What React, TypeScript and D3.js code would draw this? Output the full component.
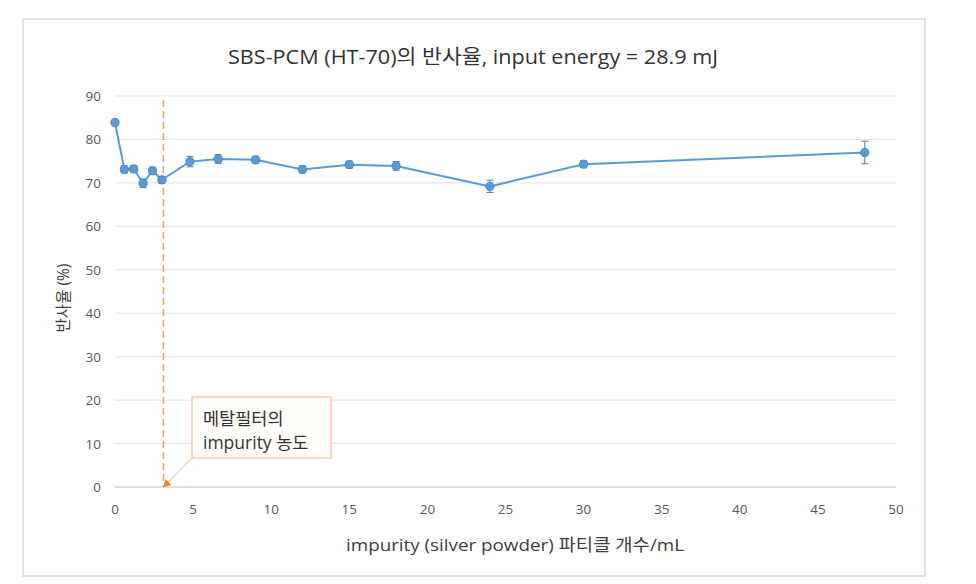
import { useEffect } from "react";
import * as d3 from "d3";

// impurity particle counts (per mL) and measured reflectance (%)
const particles = [0, 0.6, 1.2, 1.8, 2.4, 3.0, 4.8, 6.6, 9, 12, 15, 18, 24, 30, 48];
const reflectance = [83.9, 73.1, 73.2, 69.9, 72.8, 70.7, 74.9, 75.5, 75.3, 73.1, 74.2, 73.9, 69.2, 74.3, 77.0];
const errors = [0.5, 0.8, 0.8, 1.0, 0.8, 0.8, 1.2, 1.0, 0.8, 0.8, 0.8, 1.0, 1.4, 0.8, 2.6];

const xTicks = [0, 5, 10, 15, 20, 25, 30, 35, 40, 45, 50];
const yTicks = [0, 10, 20, 30, 40, 50, 60, 70, 80, 90];
const filterLimit = 3.1;

const title = "SBS-PCM (HT-70)의 반사율, input energy = 28.9 mJ";
const xTitle = "impurity (silver powder) 파티클 개수/mL";
const yTitle = "반사율 (%)";
const noteLines = ["메탈필터의", "impurity 농도"];

const W = 976;
const H = 584;
const font = "'Open Sans', 'Noto Sans CJK KR', sans-serif";

export default function App() {
  useEffect(() => {
    document.body.style.margin = "0";
  }, []);

  const x = d3.scaleLinear().domain([0, 50]).range([115, 896]);
  const y = d3.scaleLinear().domain([0, 90]).range([487, 96]);

  const pts = particles.map((p, i) => ({ p, v: reflectance[i], e: errors[i] }));
  const line = d3
    .line<{ p: number; v: number }>()
    .x((d) => x(d.p))
    .y((d) => y(d.v));
  const marker = d3.symbol().type(d3.symbolCircle).size(52)();

  const lx = x(filterLimit);

  return (
    <svg width={W} height={H} style={{ display: "block" }} fontFamily={font}>
      <rect x={0} y={0} width={W} height={H} fill="#fff" />
      <rect x={23} y={19} width={902} height={557} fill="#fff" stroke="#d9d9d9" strokeWidth={1.5} />

      <text x={473} y={64} textAnchor="middle" fontSize={20} fill="#333" textLength={490} lengthAdjust="spacingAndGlyphs">
        {title}
      </text>

      {yTicks.map((t) => (
        <g key={t}>
          <line x1={x(0)} x2={x(50)} y1={y(t)} y2={y(t)} stroke="#e3e3e3" strokeWidth={1} />
          <text x={x(0) - 14} y={y(t) + 5} textAnchor="end" fontSize={13.5} fill="#595959">
            {t}
          </text>
        </g>
      ))}
      <line x1={x(0)} x2={x(50)} y1={y(0)} y2={y(0)} stroke="#d0d0d0" strokeWidth={1.2} />
      {xTicks.map((t) => (
        <text key={t} x={x(t)} y={514} textAnchor="middle" fontSize={13.5} fill="#595959">
          {t}
        </text>
      ))}

      <text x={515} y={551} textAnchor="middle" fontSize={17} fill="#404040" textLength={338} lengthAdjust="spacingAndGlyphs">
        {xTitle}
      </text>
      <text
        transform={`translate(69,${y(43.5)}) rotate(-90)`}
        textAnchor="middle"
        fontSize={15.5}
        fill="#404040"
      >
        {yTitle}
      </text>

      <line x1={lx} x2={lx} y1={y(90) + 4} y2={y(0)} stroke="#f0a060" strokeWidth={1.5} strokeDasharray="7,4" />

      <path d={line(pts) ?? ""} fill="none" stroke="#5b9bd5" strokeWidth={2} />
      {pts.map((d, i) => (
        <g key={i} stroke="#4a7fb5" strokeWidth={1}>
          <line x1={x(d.p)} x2={x(d.p)} y1={y(d.v + d.e)} y2={y(d.v - d.e)} />
          <line x1={x(d.p) - 3.5} x2={x(d.p) + 3.5} y1={y(d.v + d.e)} y2={y(d.v + d.e)} />
          <line x1={x(d.p) - 3.5} x2={x(d.p) + 3.5} y1={y(d.v - d.e)} y2={y(d.v - d.e)} />
        </g>
      ))}
      {pts.map((d, i) => (
        <path
          key={i}
          d={marker ?? ""}
          transform={`translate(${x(d.p)},${y(d.v)})`}
          fill="#5b9bd5"
          stroke="#4a86c5"
          strokeWidth={1}
        />
      ))}

      <line x1={192} y1={458} x2={lx + 3} y2={y(0) - 3} stroke="#f4b183" strokeWidth={1} />
      <path d={`M${lx},${y(0)} l8,-2 l-6,-6 z`} fill="#ed7d31" />
      <rect x={192} y={397} width={139} height={61} fill="#fffdf9" stroke="#f8cbad" strokeWidth={1.5} />
      {noteLines.map((s, i) => (
        <text key={i} x={203} y={425 + i * 24} fontSize={17.5} fill="#333">
          {s}
        </text>
      ))}
    </svg>
  );
}
